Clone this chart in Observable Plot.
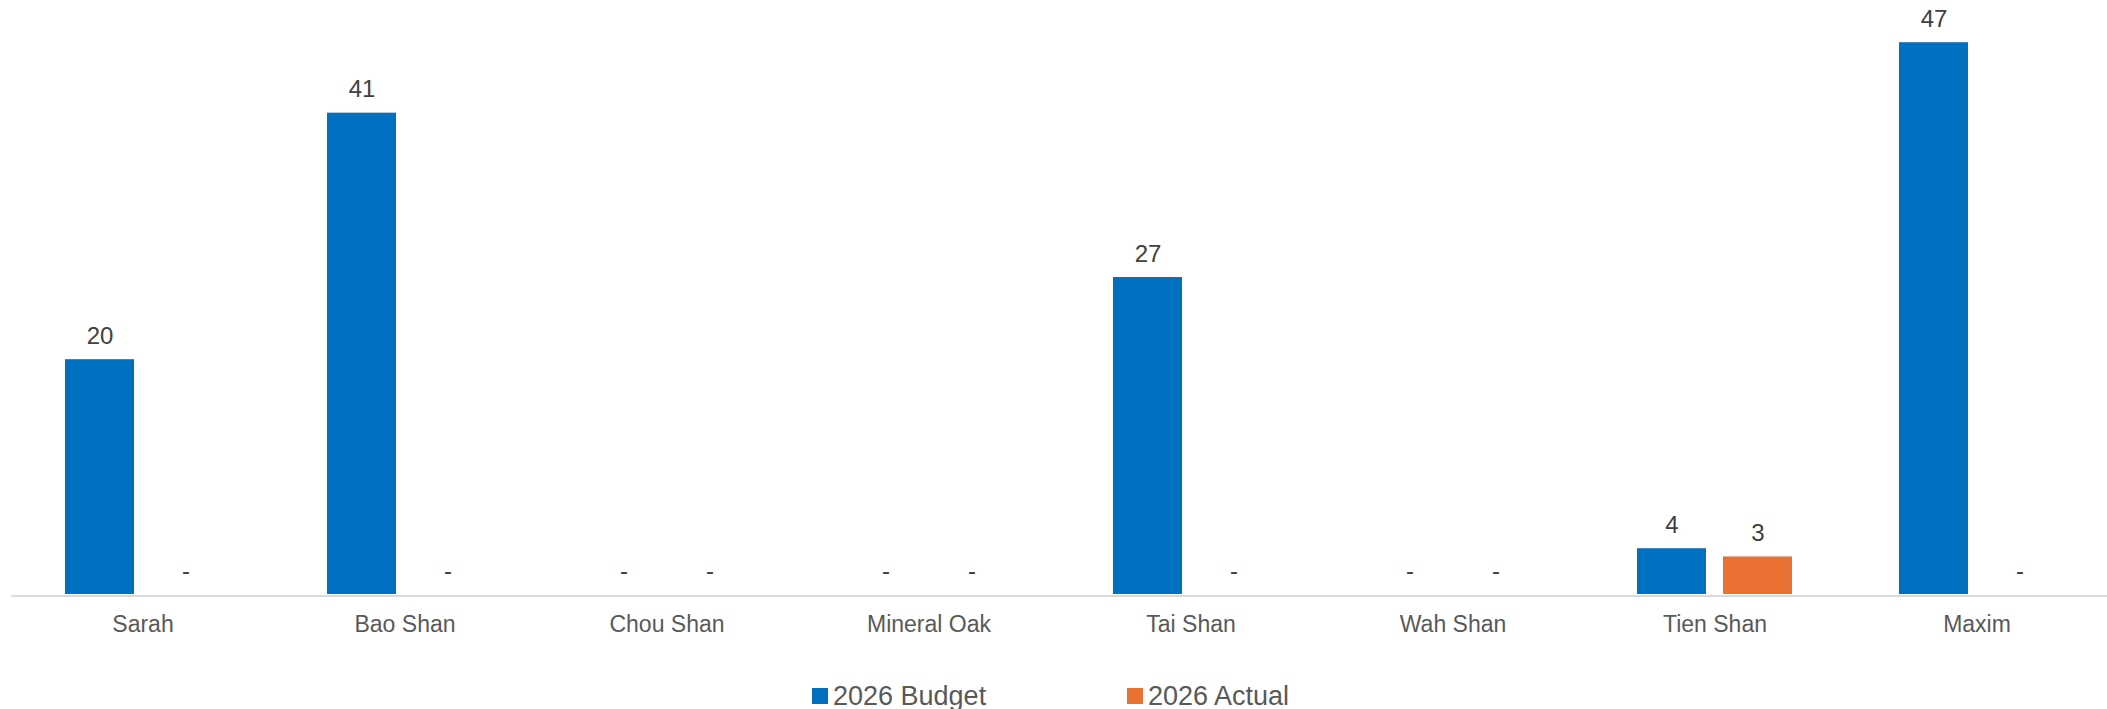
<!DOCTYPE html>
<html>
<head>
<meta charset="utf-8">
<script src="https://cdn.jsdelivr.net/npm/d3@7"></script>
<script src="https://cdn.jsdelivr.net/npm/@observablehq/plot@0.6"></script>
<style>
  body { margin: 0; background: #ffffff; font-family: "Liberation Sans", Arial, sans-serif; }
  #legend { display: flex; padding-left: 812px; padding-top: 21px; line-height: 30px; font-size: 27px; color: #595959; }
  .item { display: flex; align-items: center; width: 315px; white-space: nowrap; }
  .sw { width: 16px; height: 16px; margin-right: 5px; flex: none; }
</style>
</head>
<body>
<div id="chart"></div>
<div id="legend"></div>
<script>
const categories = ["Sarah", "Bao Shan", "Chou Shan", "Mineral Oak", "Tai Shan", "Wah Shan", "Tien Shan", "Maxim"];
const seriesNames = ["2026 Budget", "2026 Actual"];
const budget = [20, 41, 0, 0, 27, 0, 3.9, 47];
const actual = [0, 0, 0, 0, 0, 0, 3.2, 0];
const seriesColors = ["#0070C0", "#E97132"];

const table = [];
categories.forEach((c, i) => {
  table.push({category: c, series: seriesNames[0], value: budget[i]});
  table.push({category: c, series: seriesNames[1], value: actual[i]});
});

const fmt = d3.format(",.0f");

const chart = Plot.plot({
  width: 2107,
  height: 660,
  marginTop: 7,
  marginBottom: 66,
  marginLeft: 10,
  marginRight: 0,
  style: {fontFamily: "'Liberation Sans', Arial, sans-serif", fontSize: "23px", color: "#595959", background: "#ffffff"},
  fx: {domain: categories, axis: "bottom", label: null, tickSize: 0, tickPadding: 21, paddingInner: 0.4017, paddingOuter: 0.1962, align: 0.508},
  x: {domain: seriesNames, axis: null, paddingInner: 0.1954, paddingOuter: 0},
  y: {domain: [0, 50], axis: null},
  color: {domain: seriesNames, range: seriesColors},
  marks: [
    Plot.barY(table, {fx: "category", x: "series", y: "value", fill: "series"}),
    Plot.ruleY([0], {stroke: "#D9D9D9", strokeWidth: 2, dy: 1.5, insetLeft: -52.7, insetRight: -52.7}),
    Plot.text(table, {
      fx: "category", x: "series", y: "value",
      text: d => d.value === 0 ? "-" : fmt(d.value),
      lineAnchor: "bottom", dy: -16, fill: "#404040", fontSize: 24
    })
  ]
});
document.getElementById("chart").appendChild(chart);

const legend = document.getElementById("legend");
seriesNames.forEach((s, i) => {
  const item = document.createElement("div");
  item.className = "item";
  const sw = document.createElement("span");
  sw.className = "sw";
  sw.style.background = seriesColors[i];
  const label = document.createElement("span");
  label.textContent = s;
  item.appendChild(sw);
  item.appendChild(label);
  legend.appendChild(item);
});
</script>
</body>
</html>
